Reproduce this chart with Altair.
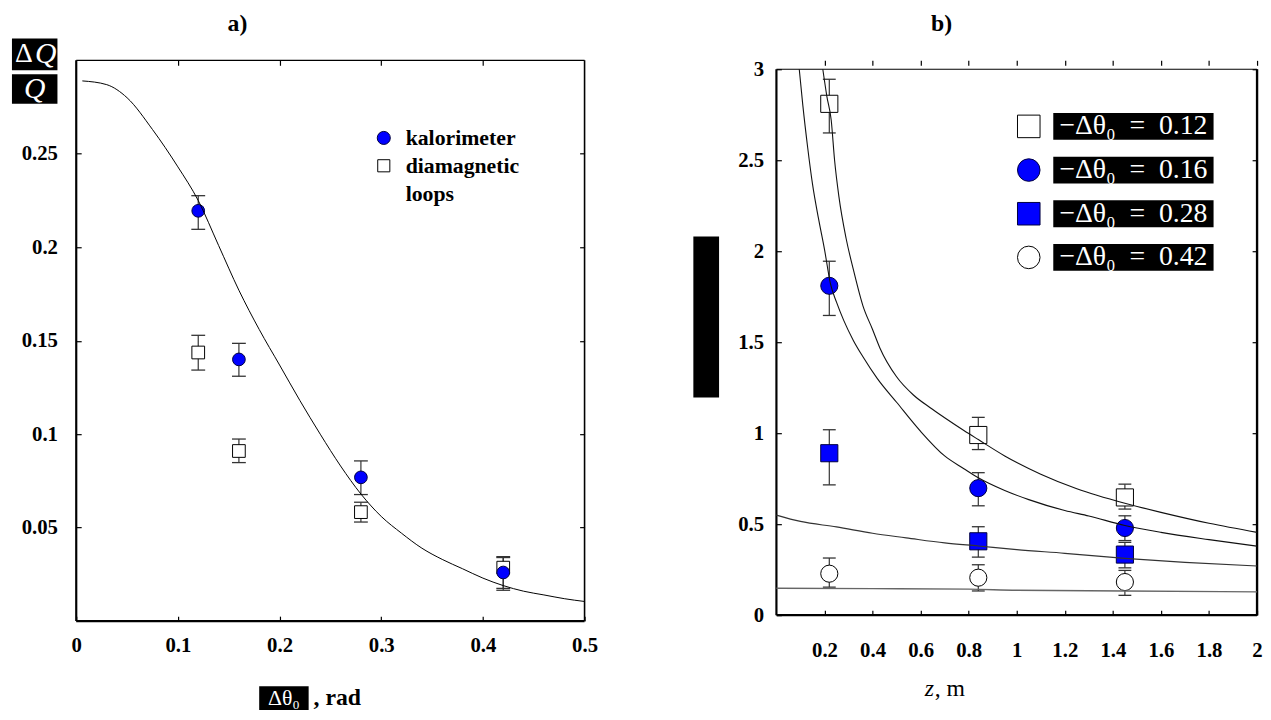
import altair as alt
import pandas as pd

# ---------------- panel a) ----------------
a_theta = [0.12, 0.16, 0.28, 0.42]
a_kalorimeter = [0.2195, 0.140, 0.0769, 0.026]
a_kalorimeter_lo = [0.2096, 0.131, 0.0677, 0.0165]
a_kalorimeter_hi = [0.2276, 0.1486, 0.0857, 0.0345]
a_diamagnetic = [0.1437, 0.091, 0.0583, 0.0286]
a_diamagnetic_lo = [0.1343, 0.0848, 0.0530, 0.0175]
a_diamagnetic_hi = [0.1529, 0.0974, 0.0636, 0.0340]
a_curve_theta = [0.006, 0.03, 0.05, 0.075, 0.10, 0.12, 0.14, 0.16, 0.18, 0.20, 0.22, 0.24,
                 0.26, 0.28, 0.30, 0.32, 0.34, 0.36, 0.38, 0.40, 0.42, 0.44, 0.46, 0.48, 0.50]
a_curve_value = [0.289, 0.287, 0.280, 0.263, 0.243, 0.225, 0.201, 0.177, 0.156, 0.137, 0.118, 0.100,
                 0.083, 0.068, 0.056, 0.047, 0.039, 0.033, 0.028, 0.023, 0.019, 0.016, 0.014, 0.012, 0.0105]
a_x_ticks = [0, 0.1, 0.2, 0.3, 0.4, 0.5]
a_y_ticks = [0.05, 0.1, 0.15, 0.2, 0.25]
a_legend_lines = ["kalorimeter", "diamagnetic", "loops"]

# ---------------- panel b) ----------------
b_z = [0.22, 0.84, 1.45]
b_series = ["0.12", "0.16", "0.28", "0.42"]
b_value_012 = [2.81, 0.99, 0.647]
b_lo_012 = [2.65, 0.91, 0.583]
b_hi_012 = [2.945, 1.087, 0.72]
b_value_016 = [1.81, 0.698, 0.479]
b_lo_016 = [1.647, 0.601, 0.41]
b_hi_016 = [1.945, 0.783, 0.546]
b_value_028 = [0.89, 0.406, 0.333]
b_lo_028 = [0.716, 0.319, 0.26]
b_hi_028 = [1.019, 0.486, 0.40]
b_value_042 = [0.228, 0.206, 0.182]
b_lo_042 = [0.154, 0.133, 0.109]
b_hi_042 = [0.314, 0.277, 0.246]

b_curve_012_z = [0.193, 0.21, 0.228, 0.242, 0.26, 0.29, 0.32, 0.36, 0.40, 0.43, 0.50, 0.57, 0.64,
                 0.70, 0.78, 0.84, 0.95, 1.10, 1.25, 1.45, 1.60, 1.80, 2.00]
b_curve_012_v = [3.00, 2.85, 2.72, 2.50, 2.30, 2.07, 1.90, 1.70, 1.57, 1.47, 1.31, 1.21, 1.14,
                 1.085, 1.015, 0.965, 0.875, 0.775, 0.695, 0.615, 0.565, 0.505, 0.455]
b_curve_016_z = [0.095, 0.11, 0.13, 0.15, 0.175, 0.20, 0.225, 0.25, 0.28, 0.32, 0.36, 0.42, 0.50,
                 0.60, 0.70, 0.78, 0.84, 0.95, 1.05, 1.20, 1.30, 1.45, 1.60, 1.80, 2.00]
b_curve_016_v = [3.00, 2.80, 2.57, 2.37, 2.18, 2.01, 1.82, 1.72, 1.62, 1.51, 1.42, 1.30, 1.17,
                 1.01, 0.875, 0.805, 0.755, 0.685, 0.635, 0.575, 0.545, 0.493, 0.455, 0.415, 0.379]
b_curve_028_z = [0.0, 0.1, 0.25, 0.4, 0.54, 0.7, 0.84, 1.0, 1.2, 1.45, 1.7, 2.0]
b_curve_028_v = [0.55, 0.515, 0.485, 0.45, 0.425, 0.397, 0.38, 0.36, 0.34, 0.312, 0.29, 0.27]
b_curve_042_z = [0.0, 0.4, 0.8, 1.0, 1.45, 2.0]
b_curve_042_v = [0.148, 0.146, 0.143, 0.137, 0.133, 0.128]
b_x_ticks = [0.2, 0.4, 0.6, 0.8, 1, 1.2, 1.4, 1.6, 1.8, 2]
b_y_ticks = [0, 0.5, 1, 1.5, 2, 2.5, 3]

# ---------------- styling ----------------
BLUE = "#0000ff"
SERIF = "Liberation Serif"
one = pd.DataFrame({"x": [0.0], "y": [0.0]})

A_W, A_H = 514, 567
B_W, B_H = 486, 561
B_TOP_GAP = 9  # empty strip between the top frame line (z-value 3) and the plot group top
ax_scale = alt.Scale(domain=[0, 0.5], nice=False, zero=False)
ay_scale = alt.Scale(domain=[0, 0.3], nice=False, zero=False)
bx_scale = alt.Scale(domain=[0, 2], nice=False, zero=False)
by_scale = alt.Scale(domain=[0, 3.0 * B_H / (B_H - B_TOP_GAP)], nice=False, zero=False)


def axis_layer(xs, ys, xvals, yvals, xo, yo, labels, xpad=0, ypad=0):
    common = dict(format="~g", offset=-5, tickSize=5, domain=False, grid=False,
                  title=None, labelFlush=False, labels=labels)
    return alt.Chart(one).mark_point(opacity=0).encode(
        x=alt.X("x:Q", scale=xs, axis=alt.Axis(orient=xo, values=xvals, labelPadding=xpad, **common)),
        y=alt.Y("y:Q", scale=ys, axis=alt.Axis(orient=yo, values=yvals, labelPadding=ypad, **common)),
    )


def frame_layer(xs, ys, x0, x1, y0, y1, widths):
    df = pd.DataFrame({
        "x": [x0, x0, x0, x1], "x2": [x1, x0, x1, x1],
        "y": [y0, y0, y1, y0], "y2": [y0, y1, y1, y1],
        "w": widths,
    })
    return alt.Chart(df).mark_rule(color="black").encode(
        x=alt.X("x:Q", scale=xs, axis=None), x2="x2:Q",
        y=alt.Y("y:Q", scale=ys, axis=None), y2="y2:Q",
        strokeWidth=alt.StrokeWidth("w:Q", scale=None),
    )


def pix_rect(x1, x2, y1, y2, color="black"):
    return alt.Chart(one).mark_rect(color=color).encode(
        x=alt.value(x1), x2=alt.value(x2), y=alt.value(y1), y2=alt.value(y2))


def pix_text(text, x, y, size, color="black", font=SERIF, style="normal", weight="normal",
             align="center", baseline="middle"):
    return alt.Chart(one).mark_text(text=text, fontSize=size, color=color, font=font, fontStyle=style,
                                    fontWeight=weight, align=align, baseline=baseline).encode(
        x=alt.value(x), y=alt.value(y))


CAP = "M-1,0L1,0"

# ---------------- panel a) layers ----------------
a_pts = pd.DataFrame({
    "theta": a_theta * 2,
    "value": a_kalorimeter + a_diamagnetic,
    "lo": a_kalorimeter_lo + a_diamagnetic_lo,
    "hi": a_kalorimeter_hi + a_diamagnetic_hi,
    "kind": ["kalorimeter"] * 4 + ["diamagnetic loops"] * 4,
})
a_caps = pd.concat([
    a_pts[["theta", "lo"]].rename(columns={"lo": "v"}),
    a_pts[["theta", "hi"]].rename(columns={"hi": "v"}),
])
a_curve = pd.DataFrame({"theta": a_curve_theta, "value": a_curve_value})

ax_enc = alt.X("theta:Q", scale=ax_scale, axis=None)
a_err = alt.Chart(a_pts).mark_rule(color="#333", strokeWidth=1.2).encode(
    x=ax_enc, y=alt.Y("lo:Q", scale=ay_scale, axis=None), y2="hi:Q")
a_cap = alt.Chart(a_caps).mark_point(shape=CAP, size=196, color="#333", strokeWidth=1.3, opacity=1).encode(
    x=ax_enc, y=alt.Y("v:Q", scale=ay_scale, axis=None))
a_dia = alt.Chart(a_pts[a_pts.kind == "diamagnetic loops"]).mark_point(
    shape="square", size=165, filled=True, fill="white", stroke="black", strokeWidth=1, opacity=1).encode(
    x=ax_enc, y=alt.Y("value:Q", scale=ay_scale, axis=None))
a_kal = alt.Chart(a_pts[a_pts.kind == "kalorimeter"]).mark_point(
    shape="circle", size=165, filled=True, fill=BLUE, stroke="#000040", strokeWidth=1, opacity=1).encode(
    x=ax_enc, y=alt.Y("value:Q", scale=ay_scale, axis=None))
a_line = alt.Chart(a_curve).mark_line(color="black", strokeWidth=1, interpolate="monotone").encode(
    x=ax_enc, y=alt.Y("value:Q", scale=ay_scale, axis=None))

leg_a_x, leg_a_top, leg_a_step = 0.3025, 0.2585, 0.0149
a_leg_sym = pd.DataFrame({"x": [leg_a_x] * 2, "y": [leg_a_top, leg_a_top - leg_a_step],
                          "kind": ["kalorimeter", "diamagnetic loops"]})
a_leg_kal = alt.Chart(a_leg_sym.iloc[[0]]).mark_point(
    shape="circle", size=175, filled=True, fill=BLUE, stroke="#000040", strokeWidth=1, opacity=1).encode(
    x=alt.X("x:Q", scale=ax_scale, axis=None), y=alt.Y("y:Q", scale=ay_scale, axis=None))
a_leg_dia = alt.Chart(a_leg_sym.iloc[[1]]).mark_point(
    shape="square", size=150, filled=True, fill="white", stroke="black", strokeWidth=1, opacity=1).encode(
    x=alt.X("x:Q", scale=ax_scale, axis=None), y=alt.Y("y:Q", scale=ay_scale, axis=None))
a_leg_txt_df = pd.DataFrame({"x": [leg_a_x + 0.0215] * 3,
                             "y": [leg_a_top - i * leg_a_step for i in range(3)],
                             "t": a_legend_lines})
a_leg_txt = alt.Chart(a_leg_txt_df).mark_text(
    font=SERIF, fontSize=22, fontWeight="bold", align="left", baseline="middle", color="black").encode(
    x=alt.X("x:Q", scale=ax_scale, axis=None), y=alt.Y("y:Q", scale=ay_scale, axis=None), text="t:N")

a_deco = [
    pix_text("a)", 163, -49, 24, weight="bold", baseline="top"),
    pix_rect(-65, -19, -22, 10),
    pix_rect(-65, -19, 14, 44),
    pix_text("Δ", -53, -6, 28, color="white"),
    pix_text("Q", -31, -6, 30, color="white", style="italic"),
    pix_text("Q", -42, 29, 30, color="white", style="italic"),
    pix_rect(185, 235, 633, 657),
    pix_text("Δθ₀", 210, 645, 22, color="white"),
    pix_text(", rad", 240, 645, 24, weight="bold", align="left"),
]

left = alt.layer(
    axis_layer(ax_scale, ay_scale, a_x_ticks, a_y_ticks, "bottom", "left", True, xpad=14, ypad=19),
    axis_layer(ax_scale, ay_scale, [0.1, 0.2, 0.3, 0.4], a_y_ticks, "top", "right", False),
    frame_layer(ax_scale, ay_scale, 0, 0.5, 0, 0.3, [2.2, 2.2, 1.4, 1.6]),
    a_err, a_cap, a_dia, a_kal, a_line,
    a_leg_kal, a_leg_dia, a_leg_txt,
    *a_deco,
).resolve_axis(x="independent", y="independent").properties(width=A_W, height=A_H)

# ---------------- panel b) layers ----------------
b_vals = {"0.12": (b_value_012, b_lo_012, b_hi_012), "0.16": (b_value_016, b_lo_016, b_hi_016),
          "0.28": (b_value_028, b_lo_028, b_hi_028), "0.42": (b_value_042, b_lo_042, b_hi_042)}
rows = []
for s in b_series:
    v, lo, hi = b_vals[s]
    for i, z in enumerate(b_z):
        rows.append({"series": s, "z": z, "value": v[i], "lo": lo[i], "hi": hi[i]})
b_pts = pd.DataFrame(rows)
b_caps = pd.concat([
    b_pts[["z", "lo"]].rename(columns={"lo": "v"}),
    b_pts[["z", "hi"]].rename(columns={"hi": "v"}),
])


def curve_df(s, zz, vv):
    return pd.DataFrame({"series": s, "z": zz, "value": vv})


shape_enc = alt.Shape("series:N", scale=alt.Scale(domain=b_series, range=["square", "circle", "square", "circle"]), legend=None)
fill_enc = alt.Fill("series:N", scale=alt.Scale(domain=b_series, range=["white", BLUE, BLUE, "white"]), legend=None)
stroke_enc = alt.Stroke("series:N", scale=alt.Scale(domain=b_series, range=["black", "#000040", "#000040", "black"]), legend=None)

bx_enc = alt.X("z:Q", scale=bx_scale, axis=None)
by_enc = alt.Y("value:Q", scale=by_scale, axis=None)
b_err = alt.Chart(b_pts).mark_rule(color="#333", strokeWidth=1.2).encode(
    x=bx_enc, y=alt.Y("lo:Q", scale=by_scale, axis=None), y2="hi:Q")
b_cap = alt.Chart(b_caps).mark_point(shape=CAP, size=169, color="#333", strokeWidth=1.3, opacity=1).encode(
    x=bx_enc, y=alt.Y("v:Q", scale=by_scale, axis=None))
b_mark = alt.Chart(b_pts).mark_point(size=300, filled=True, strokeWidth=1, opacity=1).encode(
    x=bx_enc, y=by_enc, shape=shape_enc, fill=fill_enc, stroke=stroke_enc)
b_lines_ab = alt.Chart(pd.concat([curve_df("0.12", b_curve_012_z, b_curve_012_v),
                                  curve_df("0.16", b_curve_016_z, b_curve_016_v)])).mark_line(
    color="#111", strokeWidth=1.1, interpolate="monotone").encode(x=bx_enc, y=by_enc, detail="series:N")
b_line_c = alt.Chart(curve_df("0.28", b_curve_028_z, b_curve_028_v)).mark_line(
    color="#333", strokeWidth=1.2, interpolate="monotone").encode(x=bx_enc, y=by_enc)
b_line_d = alt.Chart(curve_df("0.42", b_curve_042_z, b_curve_042_v)).mark_line(
    color="#666", strokeWidth=1.4, interpolate="monotone").encode(x=bx_enc, y=by_enc)

leg_b_sym_z, leg_b_box_z0, leg_b_box_z1 = 1.05, 1.152, 1.819
leg_b_top, leg_b_step, leg_b_half = 2.686, 0.24, 0.0738
b_leg = pd.DataFrame({
    "series": b_series,
    "zs": [leg_b_sym_z] * 4,
    "z0": [leg_b_box_z0] * 4, "z1": [leg_b_box_z1] * 4,
    "zc": [(leg_b_box_z0 + leg_b_box_z1) / 2] * 4,
    "y": [leg_b_top - i * leg_b_step for i in range(4)],
    "label": ["−Δθ₀\u2002=\u2002" + s for s in b_series],
})
b_leg["y0"] = b_leg["y"] - leg_b_half
b_leg["y1"] = b_leg["y"] + leg_b_half
b_leg_sym = alt.Chart(b_leg).mark_point(size=520, filled=True, strokeWidth=1, opacity=1).encode(
    x=alt.X("zs:Q", scale=bx_scale, axis=None), y=alt.Y("y:Q", scale=by_scale, axis=None),
    shape=shape_enc, fill=fill_enc, stroke=stroke_enc)
b_leg_box = alt.Chart(b_leg).mark_rect(color="black").encode(
    x=alt.X("z0:Q", scale=bx_scale, axis=None), x2="z1:Q",
    y=alt.Y("y0:Q", scale=by_scale, axis=None), y2="y1:Q")
b_leg_txt = alt.Chart(b_leg).mark_text(font=SERIF, fontSize=28, color="white",
                                       align="center", baseline="middle").encode(
    x=alt.X("zc:Q", scale=bx_scale, axis=None), y=alt.Y("y:Q", scale=by_scale, axis=None), text="label:N")

b_deco = [
    pix_text("b)", 167, -49, 24, weight="bold", baseline="top"),
    pix_rect(-84, -58, 178, 341),
    pix_text("z", 150, 636, 24, style="italic", align="left"),
    pix_text(", m", 160, 636, 24, align="left"),
]

right = alt.layer(
    axis_layer(bx_scale, by_scale, b_x_ticks, b_y_ticks, "bottom", "left", True, xpad=25, ypad=13),
    axis_layer(bx_scale, by_scale, b_x_ticks, b_y_ticks[1:], "top", "right", False),
    frame_layer(bx_scale, by_scale, 0, 2, 0, 3, [2.2, 2.2, 1.2, 2.4]),
    b_err, b_cap, b_mark, b_lines_ab, b_line_c, b_line_d,
    b_leg_box, b_leg_sym, b_leg_txt,
    *b_deco,
).resolve_axis(x="independent", y="independent").properties(width=B_W, height=B_H)

chart = alt.hconcat(left, right, spacing=96).properties(
    padding={"left": 4, "top": 0, "right": 0, "bottom": 0}
).configure(background="white").configure_view(stroke=None).configure_axis(
    labelFont=SERIF, labelFontSize=21, labelFontWeight="bold", labelColor="black",
    tickColor="black", tickWidth=1.2,
)

chart.save("out.html", embed_options={"renderer": "svg", "actions": False})
